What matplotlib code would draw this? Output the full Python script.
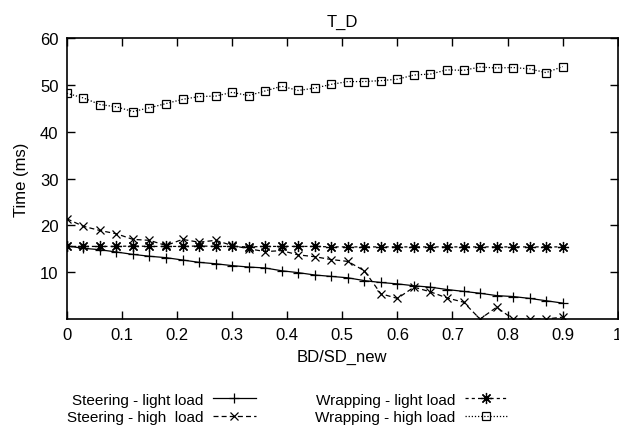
import numpy as np
import matplotlib
matplotlib.use("Agg")
import matplotlib.pyplot as plt

plt.rcParams["font.family"] = ["Liberation Sans", "DejaVu Sans"]

bd_sd = [round(0.03 * i, 2) for i in range(31)]

steering_light = [15.6, 15.1, 14.8, 14.3, 13.8, 13.4, 13.1, 12.6, 12.1, 11.8,
                  11.4, 11.1, 10.9, 10.3, 9.9, 9.4, 9.1, 8.8, 8.2, 7.8,
                  7.5, 7.1, 6.8, 6.3, 5.9, 5.5, 5.0, 4.8, 4.4, 3.9, 3.4]
steering_high = [21.4, 19.8, 18.9, 18.2, 17.0, 16.8, 15.7, 17.0, 16.4, 16.8,
                 15.7, 15.0, 14.4, 14.6, 13.7, 13.3, 12.7, 12.3, 10.3, 5.4,
                 4.4, 6.8, 5.8, 4.5, 3.6, 0.0, 2.5, 0.0, 0.0, 0.0, 0.4]
wrapping_light = [15.5, 15.5, 15.5, 15.5, 15.6, 15.5, 15.5, 15.5, 15.6, 15.5,
                  15.5, 15.4, 15.5, 15.5, 15.5, 15.5, 15.4, 15.4, 15.4, 15.4,
                  15.4, 15.4, 15.4, 15.4, 15.4, 15.4, 15.4, 15.4, 15.4, 15.4, 15.4]
wrapping_high = [48.2, 47.2, 45.8, 45.3, 44.3, 45.1, 46.0, 46.9, 47.5, 47.6,
                 48.4, 47.7, 48.7, 49.7, 48.8, 49.3, 50.1, 50.7, 50.7, 50.9,
                 51.2, 52.1, 52.3, 53.2, 53.1, 53.8, 53.6, 53.7, 53.4, 52.6, 53.9]

labels = ["Steering - light load", "Steering - high  load",
          "Wrapping - light load", "Wrapping - high load"]

fig = plt.figure(figsize=(6.19, 4.31), dpi=100)
ax = fig.add_axes([0.108, 0.2575, 0.890, 0.652])

lw = 0.9
l1, = ax.plot(bd_sd, steering_light, color="k", lw=lw, ls="-",
              marker="+", ms=7, mew=0.9)
l2, = ax.plot(bd_sd, steering_high, color="k", lw=lw, ls=(0, (4, 2.5)),
              marker="x", ms=6, mew=0.9)
l3, = ax.plot(bd_sd, wrapping_light, color="k", lw=lw, ls=(0, (2.5, 2.5)),
              marker=(8, 2, 0), ms=8, mew=0.9)
l4, = ax.plot(bd_sd, wrapping_high, color="k", lw=lw, ls=(0, (1, 1.5)),
              marker="s", ms=6, mew=0.9, mfc="none")

ax.set_xlim(0, 1)
ax.set_ylim(0, 60)
ax.set_xticks(np.arange(0, 1.01, 0.1))
ax.set_xticklabels(["0", "0.1", "0.2", "0.3", "0.4", "0.5", "0.6", "0.7",
                    "0.8", "0.9", "1"])
ax.set_yticks([10, 20, 30, 40, 50, 60])
ax.tick_params(direction="in", top=True, right=True, length=6, width=1,
               labelsize=12, pad=6)
for s in ax.spines.values():
    s.set_linewidth(1.2)

ax.set_title("T_D", fontsize=12, pad=9)
ax.set_xlabel("BD/SD_new", fontsize=12, labelpad=5)
ax.set_ylabel("Time (ms)", fontsize=12, labelpad=8)

fig.legend([l1, l2, l3, l4], labels, loc="center", ncol=2,
           bbox_to_anchor=(0.464, 0.05), frameon=False, markerfirst=False,
           fontsize=11, numpoints=1, handlelength=2.8, handletextpad=0.6,
           columnspacing=3.9, labelspacing=0.25, borderpad=0)

fig.savefig("out.png", dpi=100)
